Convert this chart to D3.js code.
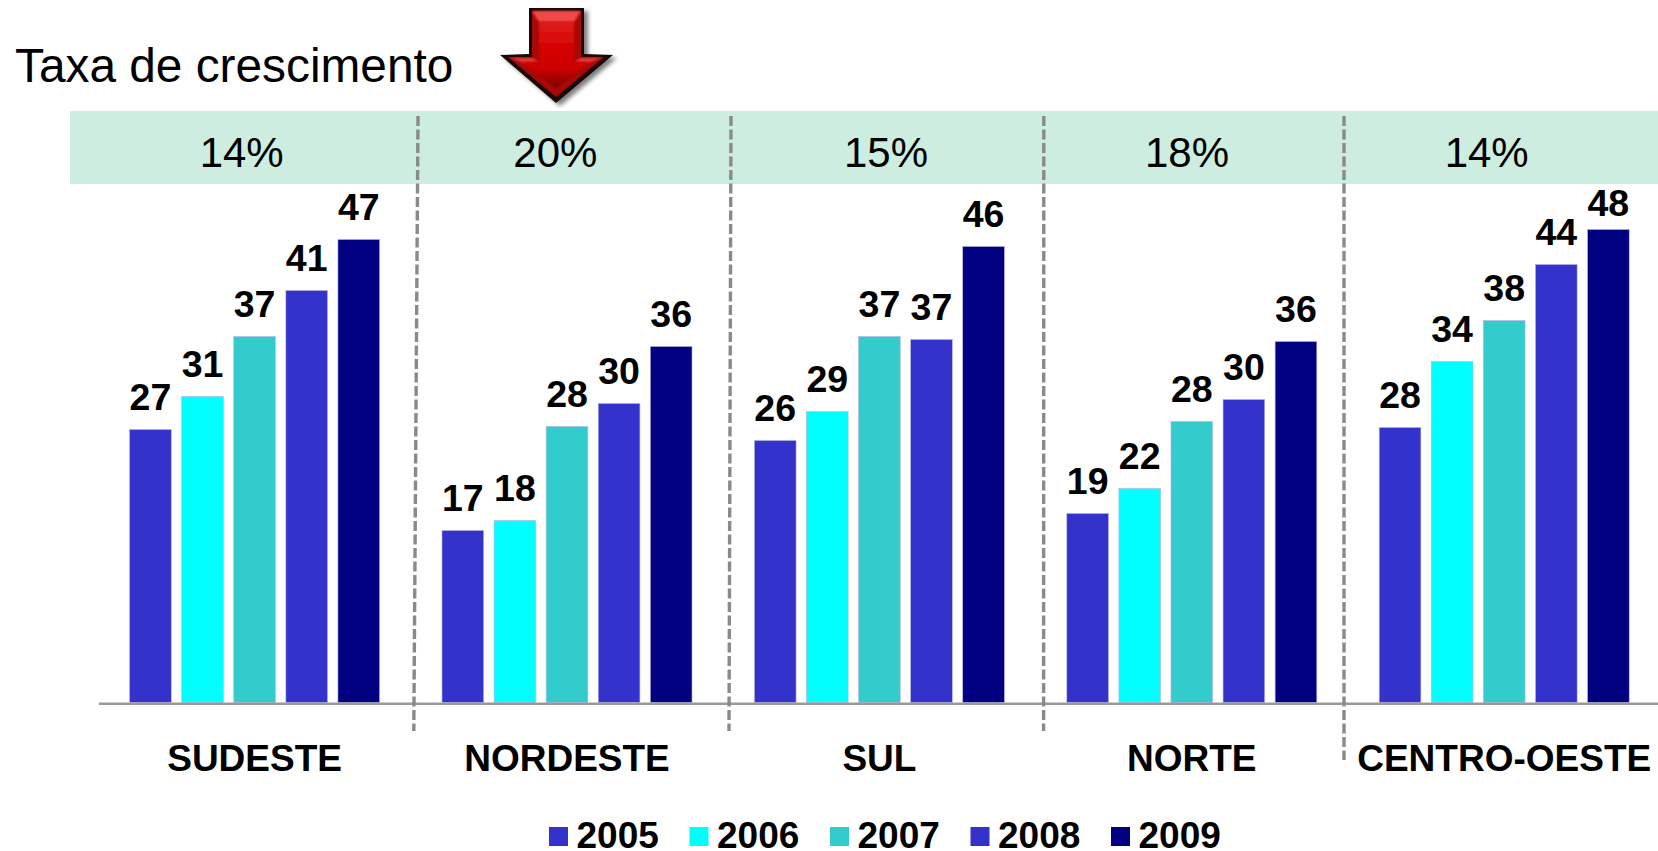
<!DOCTYPE html>
<html>
<head>
<meta charset="utf-8">
<script src="https://cdn.jsdelivr.net/npm/d3@7"></script>
<style>
html, body { margin: 0; padding: 0; background: #fff; overflow: hidden; }
svg { display: block; font-family: "Liberation Sans", Arial, sans-serif; }
</style>
</head>
<body>
<div id="chart"></div>
<script>
var regions = ["SUDESTE", "NORDESTE", "SUL", "NORTE", "CENTRO-OESTE"];
var years = ["2005", "2006", "2007", "2008", "2009"];
var growth = ["14%", "20%", "15%", "18%", "14%"];

// bar heights (the printed labels are rounded differently)
var sudeste = [27.3, 30.6, 36.6, 41.2, 46.3];
var nordeste = [17.2, 18.2, 27.6, 29.9, 35.6];
var sul = [26.2, 29.1, 36.6, 36.3, 45.6];
var norte = [18.9, 21.4, 28.1, 30.3, 36.1];
var centroOeste = [27.5, 34.1, 38.2, 43.8, 47.3];
var barValues = [sudeste, nordeste, sul, norte, centroOeste];

// printed labels
var sudesteLabels = [27, 31, 37, 41, 47];
var nordesteLabels = [17, 18, 28, 30, 36];
var sulLabels = [26, 29, 37, 37, 46];
var norteLabels = [19, 22, 28, 30, 36];
var centroOesteLabels = [28, 34, 38, 44, 48];
var barLabels = [sudesteLabels, nordesteLabels, sulLabels, norteLabels, centroOesteLabels];

var yearColors = ["#3333cc", "#00ffff", "#33cccc", "#3333cc", "#000080"];

var width = 1658, height = 851;

var svg = d3.select("#chart").append("svg")
    .attr("width", width)
    .attr("height", height);

// setup scales
var xRegion = d3.scaleBand().domain(regions).range([98.4, 1660.4]);
var xYear = d3.scaleBand().domain(years).range([31.2, 281.2]).paddingInner(0.2);
var y = d3.scaleLinear().domain([0, 50]).range([702.5, 202.5]);
var color = d3.scaleOrdinal().domain(years).range(yearColors);

// growth band
svg.append("rect")
    .attr("x", 70)
    .attr("y", 111)
    .attr("width", width - 70)
    .attr("height", 73)
    .style("fill", "#cceddf");

var growthX = [241.7, 555.4, 886, 1187, 1486.7];
svg.selectAll(".growth")
    .data(growth)
  .enter().append("text")
    .attr("class", "growth")
    .attr("x", function(d, i) { return growthX[i]; })
    .attr("y", 167)
    .style("text-anchor", "middle")
    .style("font-size", "42px")
    .style("fill", "#000")
    .text(function(d) { return d; });

// title
svg.append("text")
    .attr("x", 15)
    .attr("y", 82)
    .style("font-size", "47.8px")
    .style("fill", "#000")
    .text("Taxa de crescimento");

// draw bars
var rows = [];
regions.forEach(function(r, i) {
  years.forEach(function(yr, j) {
    rows.push({region: r, year: yr, value: barValues[i][j], label: barLabels[i][j]});
  });
});

var groups = svg.selectAll(".region")
    .data(regions)
  .enter().append("g")
    .attr("class", "region")
    .attr("transform", function(d) { return "translate(" + xRegion(d) + ",0)"; });

groups.selectAll("rect")
    .data(function(r) { return rows.filter(function(d) { return d.region == r; }); })
  .enter().append("rect")
    .attr("x", function(d) { return xYear(d.year); })
    .attr("y", function(d) { return y(d.value); })
    .attr("width", xYear.bandwidth())
    .attr("height", function(d) { return y(0) - y(d.value); })
    .style("fill", function(d) { return color(d.year); })
    .style("stroke", "#b4b4ea")
    .style("stroke-width", 0.6);

groups.selectAll("text")
    .data(function(r) { return rows.filter(function(d) { return d.region == r; }); })
  .enter().append("text")
    .attr("x", function(d) { return xYear(d.year) + xYear.bandwidth() / 2; })
    .attr("y", function(d) {
      // the last label sits closer to its bar in the original
      var gap = (d.region == "CENTRO-OESTE" && d.year == "2009") ? 14 : 20;
      return y(d.value) - gap;
    })
    .style("text-anchor", "middle")
    .style("font-size", "37.5px")
    .style("font-weight", "bold")
    .style("fill", "#000")
    .text(function(d) { return d.label; });

// x-axis
var xAxis = d3.axisBottom(xRegion).tickSize(0).tickSizeOuter(0).tickPadding(41);
var axisG = svg.append("g")
    .attr("transform", "translate(0,703.3)")
    .call(xAxis);
axisG.select(".domain")
    .style("stroke", "#999")
    .style("stroke-width", 2.4);
axisG.selectAll("text")
    .style("font-family", '"Liberation Sans", Arial, sans-serif')
    .style("font-size", "37px")
    .style("font-weight", "bold")
    .style("fill", "#000");

// dashed dividers, slightly crooked like the original
var dividers = [
  {x1: 418, y1: 116, x2: 413.8, y2: 731},
  {x1: 731, y1: 116, x2: 729, y2: 731},
  {x1: 1043.8, y1: 116, x2: 1043.6, y2: 731},
  {x1: 1344, y1: 116, x2: 1344, y2: 760}
];
svg.selectAll(".divider")
    .data(dividers)
  .enter().append("line")
    .attr("class", "divider")
    .attr("x1", function(d) { return d.x1; })
    .attr("y1", function(d) { return d.y1; })
    .attr("x2", function(d) { return d.x2; })
    .attr("y2", function(d) { return d.y2; })
    .style("stroke", "#8a8a8a")
    .style("stroke-width", 3.4)
    .style("stroke-dasharray", "10,3.5");

// legend
var legend = svg.selectAll(".legend")
    .data(years)
  .enter().append("g")
    .attr("class", "legend")
    .attr("transform", function(d, i) { return "translate(" + (549 + i * 140.5) + ",0)"; });

legend.append("rect")
    .attr("y", 827)
    .attr("width", 19)
    .attr("height", 19)
    .style("fill", color);

legend.append("text")
    .attr("x", 27.5)
    .attr("y", 848)
    .style("font-size", "37px")
    .style("font-weight", "bold")
    .style("fill", "#000")
    .text(function(d) { return d; });

// red arrow
var defs = svg.append("defs");

var blur = defs.append("filter").attr("id", "soft")
    .attr("x", "-20%").attr("y", "-20%").attr("width", "140%").attr("height", "140%");
blur.append("feGaussianBlur").attr("stdDeviation", 2);

var blurSmall = defs.append("filter").attr("id", "softer")
    .attr("x", "-20%").attr("y", "-20%").attr("width", "140%").attr("height", "140%");
blurSmall.append("feGaussianBlur").attr("stdDeviation", 1.3);

var faceGrad = defs.append("linearGradient").attr("id", "arrowFace")
    .attr("x1", 0).attr("y1", 0).attr("x2", 0).attr("y2", 1);
faceGrad.append("stop").attr("offset", "0%").attr("stop-color", "#e02020");
faceGrad.append("stop").attr("offset", "25%").attr("stop-color", "#d90808");
faceGrad.append("stop").attr("offset", "70%").attr("stop-color", "#cf0000");
faceGrad.append("stop").attr("offset", "100%").attr("stop-color", "#7a0000");

var outline = d3.line();
var arrowOuter = [[529, 8], [584, 8], [584, 54], [613, 55], [556, 103], [500, 55], [529, 54]];
var arrowInner = [[532, 11], [581, 11], [581, 57], [604, 57], [556, 97], [508, 57], [532, 57]];
var arrowFace = [[539, 22], [574, 22], [574, 62], [590, 62], [556, 88], [522, 62], [539, 62]];

var arrow = svg.append("g");
arrow.append("path")
    .attr("d", outline(arrowOuter) + "Z")
    .attr("transform", "translate(4,3)")
    .attr("filter", "url(#soft)")
    .style("fill", "#000")
    .style("opacity", 0.5);
arrow.append("path")
    .attr("d", outline(arrowOuter) + "Z")
    .style("fill", "#1c0606");
arrow.append("path")
    .attr("d", outline(arrowInner) + "Z")
    .style("fill", "#a80808");
arrow.append("path")
    .attr("d", outline([[532, 11], [581, 11], [574, 22], [539, 22]]) + "Z")
    .attr("filter", "url(#softer)")
    .style("fill", "#f04a4a");
arrow.append("path")
    .attr("d", outline([[510, 58], [532, 58], [539, 62], [524, 63]]) + "Z")
    .attr("filter", "url(#softer)")
    .style("fill", "#e83a3a");
arrow.append("path")
    .attr("d", outline([[581, 58], [602, 58], [588, 63], [574, 62]]) + "Z")
    .attr("filter", "url(#softer)")
    .style("fill", "#e83a3a");
arrow.append("path")
    .attr("d", outline(arrowFace) + "Z")
    .attr("filter", "url(#softer)")
    .style("fill", "url(#arrowFace)");
</script>
</body>
</html>
